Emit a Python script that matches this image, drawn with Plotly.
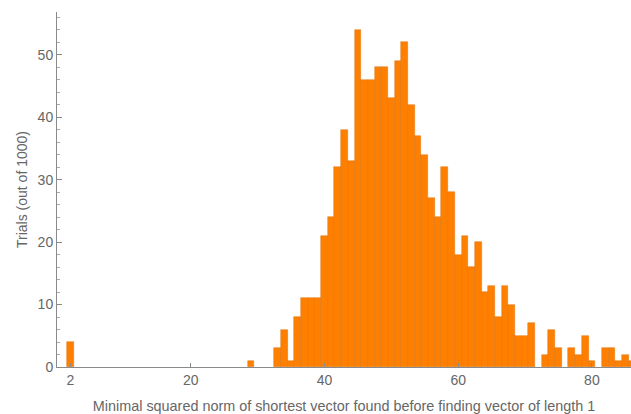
import plotly.graph_objects as go

# squared norm values (integer bins) and counts
norms = [2, 29, 33, 34, 35, 36, 37, 38, 39, 40, 41, 42, 43, 44, 45, 46, 47, 48,
         49, 50, 51, 52, 53, 54, 55, 56, 57, 58, 59, 60, 61, 62, 63, 64, 65, 66,
         67, 68, 69, 70, 71, 73, 74, 75, 77, 78, 79, 80, 82, 83, 84, 85, 86]
counts = [4, 1, 3, 6, 1, 8, 11, 11, 11, 21, 24, 32, 38, 33, 54, 46, 46, 48,
          48, 43, 49, 52, 42, 37, 34, 27, 24, 32, 28, 18, 21, 16, 20, 12, 13, 8,
          13, 10, 5, 5, 7, 2, 6, 3, 3, 2, 5, 1, 3, 3, 1, 2, 1]

x_ticks = [2, 20, 40, 60, 80]
y_ticks = [0, 10, 20, 30, 40, 50]

x_title = "Minimal squared norm of shortest vector found before finding vector of length 1"
y_title = "Trials (out of 1000)"

font_family = "Liberation Sans, Arial, sans-serif"
gray = "#666666"
axis_gray = "#8a8a8a"

fig = go.Figure()
fig.add_trace(go.Bar(
    x=norms, y=counts, width=1,
    marker=dict(color="#ff8000", line=dict(color="rgba(215,105,0,0.7)", width=0.6)),
    showlegend=False,
))

fig.update_layout(
    width=631, height=414,
    margin=dict(l=57, r=0, t=12, b=47),
    paper_bgcolor="white", plot_bgcolor="white",
    bargap=0,
    font=dict(family=font_family, size=14, color=gray),
    xaxis=dict(
        range=[0, 85.85], tickvals=x_ticks, ticks="inside", ticklen=4,
        tickcolor=axis_gray, showline=True, linecolor=axis_gray, linewidth=1,
        showgrid=False, zeroline=False, tickfont=dict(size=14, color=gray),
        title=dict(text=x_title, font=dict(size=14.4, color=gray), standoff=15),
        automargin=False,
    ),
    yaxis=dict(
        range=[0, 56.85], tickvals=y_ticks, ticks="inside", ticklen=5,
        tickcolor=axis_gray, showline=True, linecolor=axis_gray, linewidth=1,
        showgrid=False, zeroline=False, tickfont=dict(size=14, color=gray),
        minor=dict(dtick=2, ticks="inside", ticklen=3, tickcolor="#aaaaaa", showgrid=False),
        title=dict(text=y_title, font=dict(size=14, color=gray), standoff=6),
        automargin=False,
    ),
)

fig.write_html("out.html", config={"displayModeBar": False},
               post_script="document.body.style.margin='0';")
